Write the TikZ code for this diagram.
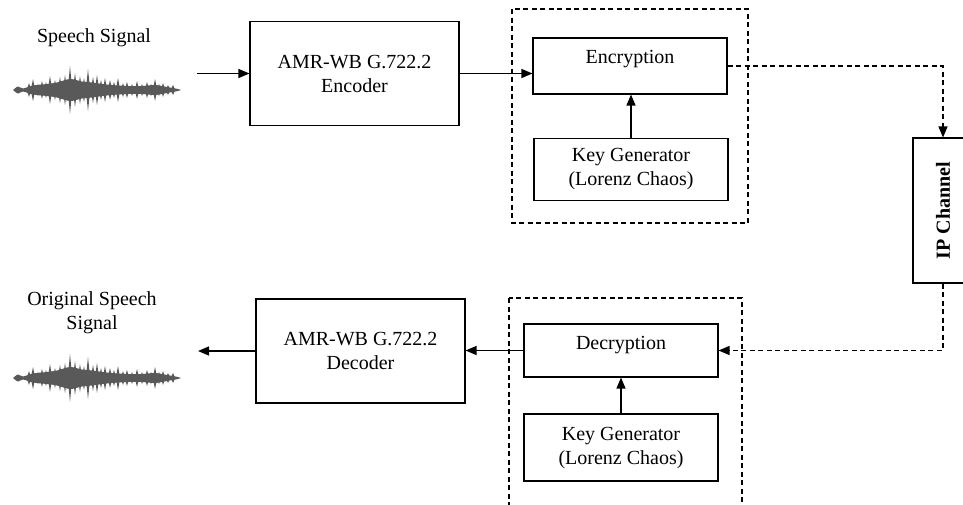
\documentclass[tikz,border=0pt]{standalone}
\usepackage{fontspec}
\setmainfont{Liberation Serif}
\usepackage{graphicx}
\usetikzlibrary{arrows.meta}

\tikzset{
    block/.style={draw, line width=1.1pt, minimum width=194pt, align=center, inner sep=2pt},
    codec/.style={block, minimum width=209pt, minimum height=104pt},
    cipher/.style={block, text height=14pt, inner ysep=11pt},
    frame/.style={line width=1.3pt, dash pattern=on 5pt off 3.5pt},
    link/.style={line width=1.2pt, -{Triangle[length=11pt,width=9pt]}},
    wave/.style={fill=black!65},
    speechwave/.pic={
        % body of the signal
        \fill[wave] plot[smooth] coordinates {(-84,0) (-79,3.5) (-74,1.5) (-64,4.5) (-50,6) (-40,7.5) (-27,11) (-15,8.5) (-5,7.5) (5,6) (15,5) (30,4) (45,4) (58,5) (70,3) (80,1.2) (84,0)}
            -- plot[smooth] coordinates {(84,0) (80,-1.2) (70,-3) (58,-5) (45,-4) (30,-4) (15,-5) (5,-6) (-5,-7.5) (-15,-8.5) (-27,-11) (-40,-7.5) (-50,-6) (-64,-4.5) (-74,-1.5) (-79,-3.5) (-84,0)} -- cycle;
        % spikes
        \foreach \x/\a in {-68/7, -64/11, -59/6, -55/9, -51/8, -47/14, -42/10, -37/13, -32/15, -27/24, -22/17, -17/14, -13/12, -9/21, -4/13, 0/15, 4/10, 8/12, 13/10, 17/8, 21/12, 26/7, 30/8, 35/6, 40/9, 45/6, 50/8, 54/6, 58/11, 62/6, 66/7, 71/5, 76/5} {
            \fill[wave] (\x-2.2,0) -- (\x,\a) -- (\x+2.2,0) -- (\x,-\a) -- cycle;
        }
    }
}

\begin{document}
\begin{tikzpicture}[x=1pt, y=-1pt, every node/.style={font=\fontsize{20}{24}\selectfont}]
    \useasboundingbox (0,0) rectangle (963,504);

    % Sender side
    \node (src) at (94,38) {Speech Signal};
    \pic at (97,90) {speechwave};
    \coordinate (srcend) at (197,73.5);

    \node[codec] (enc) at (354.5,73.5) {AMR-WB G.722.2\\Encoder};

    \draw[frame] (512,9) rectangle (748,223);
    \node[cipher, text depth=20pt] (encr) at (630,66) {Encryption};
    \node[block, minimum height=62pt] (keyA) at (631,169.5) {Key Generator\\(Lorenz Chaos)};

    \draw[link] (srcend) -- (enc.west);
    \draw[link] (enc.east) -- (enc.east -| encr.west);
    \draw[link] (keyA.north) -- (keyA.north |- encr.south);

    % Channel
    \node[block, minimum width=60pt, minimum height=145pt] (ip) at (943,210.5) {\rotatebox{90}{\bfseries IP Channel}};
    \draw[frame, -{Triangle[length=11pt,width=9pt]}] (encr.east) -| (ip.north);

    % Receiver side
    \draw[frame] (509,298) rectangle (742,530);
    \node[cipher, text depth=17pt] (decr) at (621,350.5) {Decryption};
    \node[block, minimum height=67pt] (keyB) at (621,447.5) {Key Generator\\(Lorenz Chaos)};

    \node[codec] (dec) at (360.5,351) {AMR-WB G.722.2\\Decoder};

    \node (dst) at (92,313) [align=center] {Original Speech\\Signal};
    \pic at (97,378) {speechwave};
    \coordinate (dstend) at (198,351);

    \draw[frame, -{Triangle[length=11pt,width=9pt]}] (ip.south) |- (decr.east);
    \draw[link] (keyB.north) -- (keyB.north |- decr.south);
    \draw[link] (decr.west) -- (decr.west -| dec.east);
    \draw[link] (dec.west) -- (dstend);
\end{tikzpicture}
\end{document}
